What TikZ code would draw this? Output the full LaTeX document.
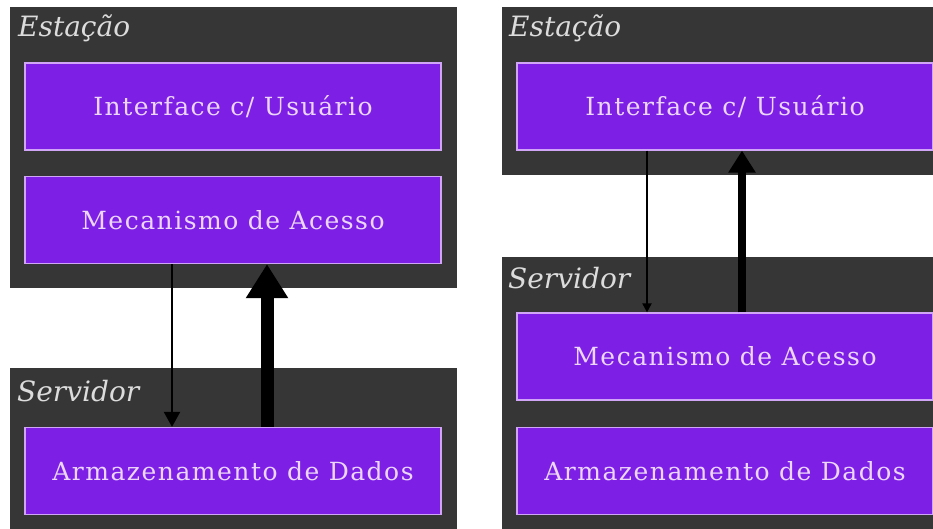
\documentclass[tikz,border=0pt]{standalone}
\usepackage{fontspec}
\usepackage{tikz}
\usetikzlibrary{arrows.meta}
\newfontfamily\boxfont{DejaVu Serif}[LetterSpace=6]
\newfontfamily\tagfont{DejaVu Serif}
\definecolor{slate}{HTML}{363636}
\definecolor{violetbox}{HTML}{7E1FE6}
\definecolor{lilac}{HTML}{ECD6FA}
\definecolor{rim}{HTML}{D0A4F6}
\definecolor{taggray}{HTML}{DCDCDC}

\begin{document}
\begin{tikzpicture}[x=1pt,y=-1pt,
  layer/.style={fill=slate, draw=none, minimum width=447pt, minimum height=#1, inner sep=0pt},
  slot/.style={fill=violetbox, draw=rim, line width=1.2pt, minimum width=416pt, minimum height=87pt, inner sep=0pt, text=lilac, font=\boxfont\fontsize{25}{28}\selectfont},
  tag/.style={anchor=north west, inner sep=0pt, text=taggray, font=\tagfont\itshape\fontsize{28}{32}\selectfont},
  thinarrow/.style={line width=2.2pt, -{Triangle[length=15pt,width=16pt]}},
  fatarrow/.style={line width=13pt, -{Triangle[length=34pt,width=40pt]}}]

\useasboundingbox (0,0) rectangle (933,529);
\clip (0,0) rectangle (933,529);

\node[layer=281pt] (estL) at (233.5,147.5) {};
\node[layer=172pt] (srvL) at (233.5,454) {};
\node[layer=168pt] (estR) at (725.5,91) {};
\node[layer=283pt] (srvR) at (725.5,398.5) {};

\node[tag] (estLtag) at (18,15) {Estação};
\node[tag] (srvLtag) at (17,380) {Servidor};
\node[tag] (estRtag) at (509,15) {Estação};
\node[tag] (srvRtag) at (508,267) {Servidor};

\node[slot] (intL) at (233,106.5) {Interface c/ Usuário};
\node[slot] (mecL) at (233,220) {Mecanismo de Acesso};
\node[slot] (armL) at (233,471) {Armazenamento de Dados};

\node[slot] (intR) at (725,106.5) {Interface c/ Usuário};
\node[slot] (mecR) at (725,356.5) {Mecanismo de Acesso};
\node[slot] (armR) at (725,471) {Armazenamento de Dados};

\draw[thinarrow] ([xshift=-61pt]mecL.south) -- ([xshift=-61pt]armL.north);
\draw[fatarrow] ([xshift=34pt]armL.north) -- ([xshift=34pt]mecL.south);

\draw[thinarrow, line width=2pt, -{Triangle[length=9pt,width=9pt]}] ([xshift=-78pt]intR.south) -- ([xshift=-78pt]mecR.north);
\draw[fatarrow, line width=8pt, -{Triangle[length=22pt,width=26pt]}] ([xshift=17pt]mecR.north) -- ([xshift=17pt]intR.south);

\end{tikzpicture}
\end{document}
